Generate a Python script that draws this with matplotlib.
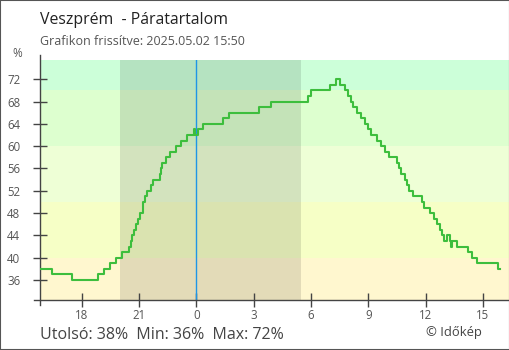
import matplotlib.pyplot as plt
from matplotlib.patches import Rectangle

# ---------------- data (hours relative to midnight, humidity %) ----------------
times = [-8.22, -7.54, -6.53, -5.16, -4.82, -4.52, -4.22, -3.91, -3.54, -3.44,
         -3.35, -3.24, -3.14, -3.03, -2.95, -2.80, -2.77, -2.67, -2.56, -2.39,
         -2.28, -1.90, -1.85, -1.78, -1.57, -1.39, -1.08, -0.82, -0.50, -0.12,
         -0.08, 0.11, 0.37, 1.38, 1.71, 3.30, 3.89, 5.87, 6.02, 7.02,
         7.33, 7.54, 7.80, 7.96, 8.12, 8.22, 8.43, 8.64, 8.85, 9.01,
         9.16, 9.44, 9.69, 9.90, 10.11, 10.53, 10.63, 10.73, 10.94, 11.05,
         11.15, 11.36, 11.80, 11.90, 12.22, 12.43, 12.58, 12.74, 12.85, 12.99,
         13.14, 13.27, 13.34, 13.41, 13.63, 14.21, 14.45, 14.68, 15.78, 15.90]
humidity = [38, 37, 36, 37, 38, 39, 40, 41, 42, 43,
            44, 45, 46, 47, 48, 49, 50, 51, 52, 53,
            54, 55, 56, 57, 58, 59, 60, 61, 62, 63,
            62, 63, 64, 65, 66, 67, 68, 69, 70, 71,
            72, 71, 70, 69, 68, 67, 66, 65, 64, 63,
            62, 61, 60, 59, 58, 57, 56, 55, 54, 53,
            52, 51, 50, 49, 48, 47, 46, 45, 44, 43,
            44, 43, 42, 43, 42, 41, 40, 39, 38, 38]

xtick_pos = [-6, -3, 0, 3, 6, 9, 12, 15]
xtick_labels = ["18", "21", "0", "3", "6", "9", "12", "15"]
ytick_pos = [36, 40, 44, 48, 52, 56, 60, 64, 68, 72]

# humidity bands: (low, high, colour)
bands = [(0, 40, "#fff7cf"), (40, 50, "#f6ffc6"), (50, 60, "#eeffd6"),
         (60, 70, "#ddffcf"), (70, 100, "#ccffd9")]
night = (-4.0, 5.48)

title = "Veszprém  - Páratartalom"
subtitle = "Grafikon frissítve: 2025.05.02 15:50"
footer = "Utolsó: 38%  Min: 36%  Max: 72%"
credit = "© Időkép"

# ---------------- plot ----------------
plt.rcParams['font.family'] = ['Open Sans', 'DejaVu Sans']

W, H = 510, 350
fig = plt.figure(figsize=(W / 100, H / 100), dpi=100)
fig.patch.set_facecolor("white")

x0, x1 = -8.18, 16.37
y0, y1 = 32.41, 75.46
ax = fig.add_axes([40 / W, 50 / H, 469 / W, 240 / H])
ax.set_xlim(x0, x1)
ax.set_ylim(y0, y1)

for lo, hi, c in bands:
    ax.axhspan(lo, hi, color=c, lw=0, zorder=0)
ax.axvspan(night[0], night[1], color="black", alpha=0.11, lw=0, zorder=1)
ax.axvline(0, color="#1e96e6", lw=1, zorder=2)

ax.plot(times, humidity, drawstyle="steps-post", color="#3dbe3d", lw=1.5, zorder=3)

ax.set_xticks(xtick_pos)
ax.set_xticklabels(xtick_labels)
ax.set_yticks(ytick_pos)
ax.tick_params(axis="both", direction="inout", length=9.5, width=1,
               color="#444444", labelcolor="#555555", labelsize=8.3)
ax.tick_params(axis="y", pad=9.5)
ax.tick_params(axis="x", pad=1.5)

for s in ["top", "right"]:
    ax.spines[s].set_visible(False)
for s in ["left", "bottom"]:
    ax.spines[s].set_color("#444444")
    ax.spines[s].set_linewidth(1)
ax.spines["left"].set_bounds(31.5, 76.4)
ax.spines["bottom"].set_bounds(-8.5, x1)


def fxy(x, y):
    return x / W, 1 - y / H


fig.text(*fxy(40, 24), title, fontsize=11.4, color="#222222")
fig.text(*fxy(40, 45), subtitle, fontsize=9, color="#555555")
fig.text(*fxy(12, 57), "%", fontsize=8.5, color="#555555")
fig.text(*fxy(40, 339), footer, fontsize=11.5, color="#444444")
fig.text(*fxy(482, 336), credit, fontsize=9.4, color="#444444", ha="right")

fig.patches.append(Rectangle((0, 0), 1, 1, transform=fig.transFigure,
                             fill=False, edgecolor="#555555", lw=1.5))

fig.savefig("out.png", dpi=100)
